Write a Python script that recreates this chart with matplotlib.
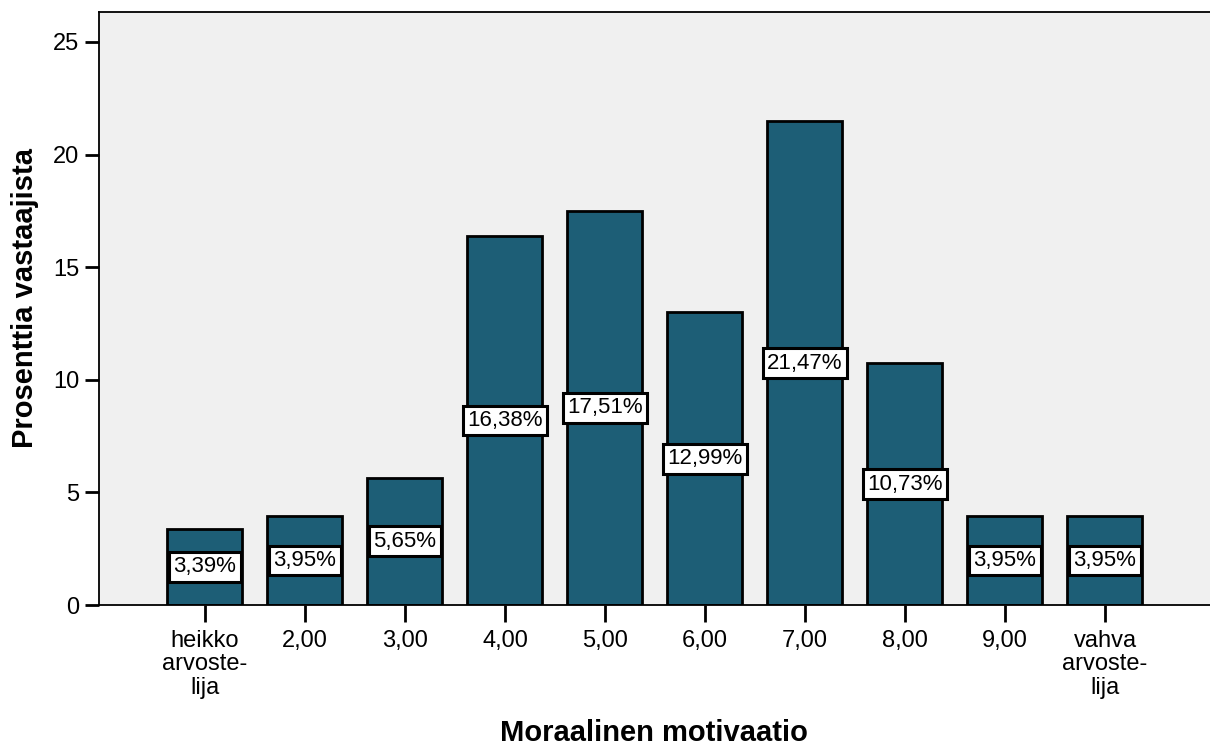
import matplotlib.pyplot as plt

plt.rcParams["font.family"] = ["Liberation Sans", "DejaVu Sans"]

# Data
categories = ["heikko\narvoste-\nlija", "2,00", "3,00", "4,00", "5,00",
              "6,00", "7,00", "8,00", "9,00", "vahva\narvoste-\nlija"]
percent = [3.39, 3.95, 5.65, 16.38, 17.51, 12.99, 21.47, 10.73, 3.95, 3.95]
labels = ["3,39%", "3,95%", "5,65%", "16,38%", "17,51%",
          "12,99%", "21,47%", "10,73%", "3,95%", "3,95%"]
yticks = [0, 5, 10, 15, 20, 25]

fig = plt.figure(figsize=(12.1, 7.46), dpi=100)
ax = fig.add_axes([0.0818, 0.189, 0.9182, 0.795])
ax.set_facecolor("#F0F0F0")

x = list(range(len(categories)))
ax.bar(x, percent, width=0.75, color="#1D5E76", edgecolor="black",
       linewidth=2.0, zorder=2)

for xi, v, lab in zip(x, percent, labels):
    ax.text(xi, v / 2, lab, ha="center", va="center", fontsize=16,
            zorder=3,
            bbox=dict(boxstyle="square,pad=0.2", facecolor="white",
                      edgecolor="black", linewidth=2.2))

ax.set_xlim(-1.06, 10.05)
ax.set_ylim(0, 26.33)
ax.set_xticks(x)
ax.set_xticklabels(categories, fontsize=17, linespacing=1.08)
ax.set_yticks(yticks)
ax.set_yticklabels([str(t) for t in yticks], fontsize=17)
ax.tick_params(axis="x", direction="out", length=12, width=2, pad=6)
ax.tick_params(axis="y", direction="out", length=10, width=2, pad=4)

for side in ["top", "left", "bottom"]:
    ax.spines[side].set_linewidth(1.3)
ax.spines["right"].set_visible(False)

fig.text(654 / 1210, 1 - 733 / 746, "Moraalinen motivaatio", fontsize=21,
         fontweight="bold", ha="center", va="center")
fig.text(25 / 1210, 1 - 298 / 746, "Prosenttia vastaajista", fontsize=21,
         fontweight="bold", ha="center", va="center", rotation=90)

fig.savefig("out.png", dpi=100)
